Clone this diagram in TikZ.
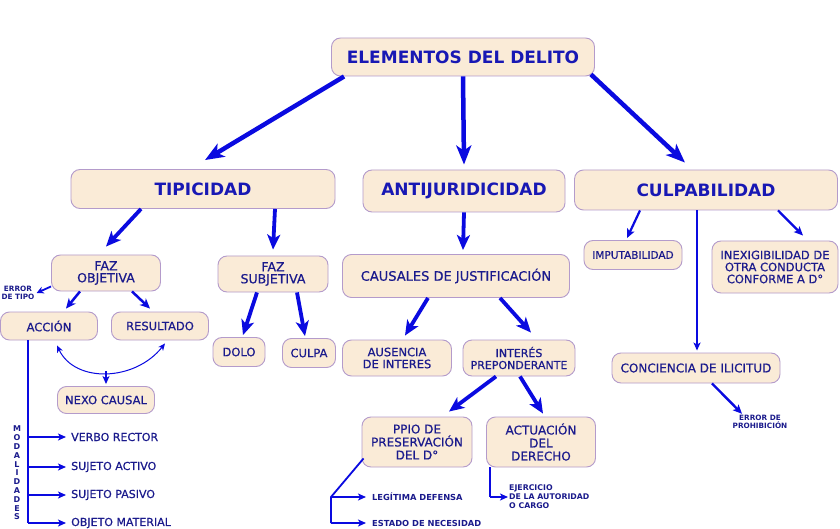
\documentclass[tikz,border=0pt]{standalone}
\usepackage{fontspec}
\setmainfont{DejaVu Sans}
\newfontfamily\rf[FakeBold=0.6]{DejaVu Sans}
\usetikzlibrary{arrows.meta,calc}
\definecolor{boxfill}{HTML}{FAEBD7}
\definecolor{boxline}{HTML}{B49BCB}
\definecolor{txt}{HTML}{1A1A8C}
\definecolor{ttl}{HTML}{1818B4}
\definecolor{arrc}{HTML}{0A0AE0}
\begin{document}
\begin{tikzpicture}[x=1pt,y=-1pt,
  box/.style={draw=boxline, fill=boxfill, line width=0.9pt, rounded corners=9pt,
    align=center, text=txt, inner sep=0pt, font=\rf\fontsize{12}{13}\selectfont},
  sz/.style n args={2}{minimum width=#1pt, minimum height=#2pt},
  ttlfont/.style={text=ttl, font=\bfseries\fontsize{17}{19}\selectfont},
  lbl/.style={text=txt, inner sep=0pt},
  arrBig/.style={draw=arrc, line width=4.5pt, -{Stealth[length=19pt,width=15pt,inset=5pt]}},
  arrMid/.style={draw=arrc, line width=3.8pt, -{Stealth[length=15pt,width=13pt,inset=4pt]}},
  arrSm/.style={draw=arrc, line width=2.5pt, -{Stealth[length=10pt,width=9pt,inset=3pt]}},
  arrThin/.style={draw=arrc, line width=1.8pt, -{Stealth[length=8pt,width=7pt,inset=2pt]}},
  ln/.style={draw=arrc, line width=1.8pt}]
\useasboundingbox[fill=white] (0,0) rectangle (840,529);

% boxes
\node[box, sz={263}{38}, ttlfont] (elem) at (463,57) {ELEMENTOS DEL DELITO};
\node[box, sz={264}{39}, ttlfont] (tip) at (203,189) {TIPICIDAD};
\node[box, sz={202}{42}, ttlfont] (anti) at (464,191) {ANTIJURIDICIDAD};
\node[box, sz={263}{40}, ttlfont] (culp) at (706,190) {CULPABILIDAD};

\node[box, sz={109}{36}, font=\rf\fontsize{12.5}{13}\selectfont] (fazo) at (106,273) {FAZ\\[-1pt]OBJETIVA};
\node[box, sz={97}{28}, font=\rf\fontsize{11.5}{13}\selectfont] (accion) at (49,326) {ACCIÓN};
\node[box, sz={97}{28}, font=\rf\fontsize{11.5}{13}\selectfont] (result) at (160,326) {RESULTADO};
\node[box, sz={97}{27}, font=\rf\fontsize{11.5}{13}\selectfont] (nexo) at (106,400) {NEXO CAUSAL};
\node[box, sz={110}{36}, font=\rf\fontsize{12.5}{13}\selectfont] (fazs) at (273,274) {FAZ\\[-1pt]SUBJETIVA};
\node[box, sz={52}{29}, font=\rf\fontsize{11.5}{13}\selectfont] (dolo) at (239,352) {DOLO};
\node[box, sz={53}{29}, font=\rf\fontsize{11.5}{13}\selectfont] (culpa) at (309,353) {CULPA};

\node[box, sz={227}{43}, font=\rf\fontsize{13}{15}\selectfont] (caus) at (456,276) {CAUSALES DE JUSTIFICACIÓN};
\node[box, sz={109}{36}, font=\rf\fontsize{11.5}{12}\selectfont] (ausen) at (397,358) {AUSENCIA\\DE INTERES};
\node[box, sz={112}{36}, font=\rf\fontsize{11}{12}\selectfont] (inter) at (519,358) {INTERÉS\\PREPONDERANTE};
\node[box, sz={110}{50}, font=\rf\fontsize{12}{13}\selectfont] (ppio) at (417,442) {PPIO DE\\PRESERVACIÓN\\DEL D°};
\node[box, sz={109}{50}, font=\rf\fontsize{12}{13}\selectfont] (actu) at (541,442) {ACTUACIÓN\\DEL\\DERECHO};

\node[box, sz={98}{29}, font=\rf\fontsize{10.5}{12}\selectfont] (imput) at (633,255) {IMPUTABILIDAD};
\node[box, sz={126}{52}, font=\rf\fontsize{11.5}{12}\selectfont] (inex) at (775,267) {INEXIGIBILIDAD DE\\OTRA CONDUCTA\\CONFORME A D°};
\node[box, sz={168}{30}, font=\rf\fontsize{12}{13}\selectfont] (conc) at (696,368) {CONCIENCIA DE ILICITUD};

% free labels
\node[lbl, align=center, font=\bfseries\fontsize{7.3}{8}\selectfont] (errt) at (18,293) {ERROR\\DE TIPO};
\node[lbl, align=center, font=\bfseries\fontsize{7.3}{8.5}\selectfont] (errp) at (760,422) {ERROR DE\\PROHIBICIÓN};
\node[lbl, align=center, font=\bfseries\fontsize{8}{8.8}\selectfont] (modal) at (17,473) {M\\O\\D\\A\\L\\I\\D\\A\\D\\E\\S};
\node[lbl, anchor=west, font=\rf\fontsize{11}{12}\selectfont] (verbo) at (71,437) {VERBO RECTOR};
\node[lbl, anchor=west, font=\rf\fontsize{11}{12}\selectfont] (sujA) at (71,467) {SUJETO ACTIVO};
\node[lbl, anchor=west, font=\rf\fontsize{11}{12}\selectfont] (sujP) at (71,495) {SUJETO PASIVO};
\node[lbl, anchor=west, font=\rf\fontsize{11}{12}\selectfont] (objeto) at (71,523) {OBJETO MATERIAL};
\node[lbl, anchor=west, font=\bfseries\fontsize{8.3}{9}\selectfont] (legit) at (372,497) {LEGÍTIMA DEFENSA};
\node[lbl, anchor=west, font=\bfseries\fontsize{8.3}{9}\selectfont] (estado) at (372,523) {ESTADO DE NECESIDAD};
\node[lbl, anchor=west, align=left, font=\bfseries\fontsize{7.8}{9}\selectfont] (ejer) at (509,497) {EJERCICIO\\DE LA AUTORIDAD\\O CARGO};

% top-level arrows
\draw[arrBig] ([xshift=13pt]elem.south west) -- ([xshift=2pt,yshift=9pt]tip.north);
\draw[arrBig] (elem.south) -- ([yshift=5pt]anti.north);
\draw[arrBig] ([xshift=-4pt,yshift=2pt]elem.south east) -- ([xshift=-21pt,yshift=7pt]culp.north);

% tipicidad
\draw[arrMid] ([xshift=-62pt]tip.south) -- ([yshift=8pt]fazo.north);
\draw[arrMid] ([xshift=72pt]tip.south) -- ([yshift=6pt]fazs.north);
\draw[arrSm] ([xshift=-26pt]fazo.south) -- ([xshift=17pt,yshift=3pt]accion.north);
\draw[arrSm] ([xshift=26pt]fazo.south) -- ([xshift=-10pt,yshift=3pt]result.north);
\draw[arrc, line width=1.8pt, -{Stealth[length=7pt,width=7pt,inset=2pt]}] ([yshift=5pt]fazo.south west) -- ([xshift=2pt]errt.east);
\draw[arrc, line width=1pt, {Stealth[length=7pt,width=6pt,inset=2pt]}-{Stealth[length=7pt,width=6pt,inset=2pt]}]
  ([xshift=8pt,yshift=-5pt]accion.south) .. controls +(18,38) and +(-30,38) .. ([xshift=5pt,yshift=-3pt]result.south);
\draw[arrc, line width=1.6pt, -{Stealth[length=8pt,width=7pt,inset=2pt]}] ([yshift=15pt]nexo.north) -- ([yshift=2pt]nexo.north);
\draw[arrMid] ([xshift=-16pt]fazs.south) -- ([xshift=4pt,yshift=2pt]dolo.north);
\draw[arrMid] ([xshift=24pt]fazs.south) -- ([xshift=-4pt,yshift=2pt]culpa.north);

% modalidades
\coordinate (mv) at ([xshift=-21pt]accion.south);
\draw[ln] (mv) -- (mv |- objeto.west);
\foreach \n in {verbo,sujA,sujP,objeto}
  \draw[arrThin] (mv |- \n.west) -- ([xshift=-5pt]\n.west);

% antijuridicidad
\draw[arrMid] (anti.south) -- ([xshift=7pt,yshift=4pt]caus.north);
\draw[arrMid] ([xshift=-28pt]caus.south) -- ([xshift=8pt,yshift=4pt]ausen.north);
\draw[arrMid] ([xshift=44pt]caus.south) -- ([xshift=12pt,yshift=7pt]inter.north);
\draw[arrMid] ([xshift=-23pt]inter.south) -- ([xshift=32pt,yshift=5pt]ppio.north);
\draw[arrMid] ([xshift=1pt]inter.south) -- ([xshift=2pt,yshift=3pt]actu.north);

\coordinate (pj) at (legit.west -| 331,0);
\draw[ln] ([xshift=2pt,yshift=9pt]ppio.south west) -- (pj) -- (pj |- estado.west);
\draw[arrThin] (pj) -- ([xshift=-6pt]legit.west);
\draw[arrThin] (pj |- estado.west) -- ([xshift=-6pt]estado.west);
\draw[ln] ([xshift=4pt]actu.south west) -- ([xshift=4pt]actu.south west |- ejer.west);
\draw[arrThin] ([xshift=4pt]actu.south west |- ejer.west) -- ([xshift=-1pt]ejer.west);

% culpabilidad
\draw[arrc, line width=2.2pt, -{Stealth[length=9pt,width=8pt,inset=2pt]}] ([xshift=-66pt]culp.south) -- ([xshift=-6pt,yshift=2pt]imput.north);
\draw[arrc, line width=2.2pt, -{Stealth[length=9pt,width=8pt,inset=2pt]}] ([xshift=72pt]culp.south) -- ([xshift=28pt,yshift=5pt]inex.north);
\draw[arrc, line width=1.8pt, -{Stealth[length=8pt,width=7pt,inset=2pt]}] ([xshift=-9pt]culp.south) -- ([xshift=1pt,yshift=2pt]conc.north);
\draw[arrc, line width=2.4pt, -{Stealth[length=9pt,width=8pt,inset=2pt]}] ([xshift=16pt]conc.south) -- ([xshift=-18pt,yshift=1pt]errp.north);
\end{tikzpicture}
\end{document}
